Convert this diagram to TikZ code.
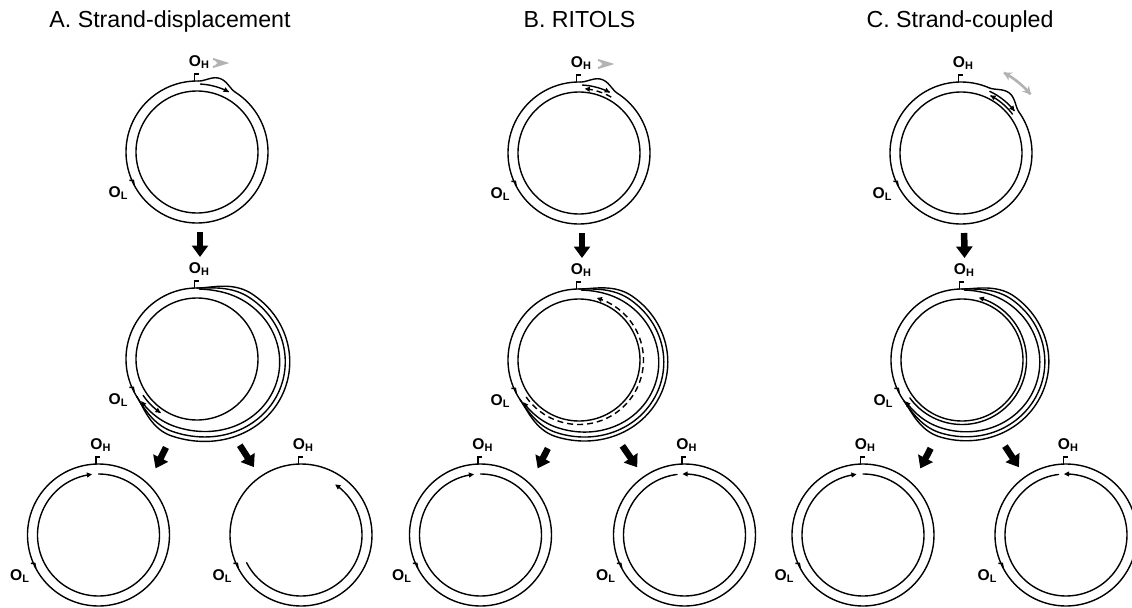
\documentclass[tikz,border=0pt]{standalone}
\usepackage{fontspec}
\setmainfont{Liberation Sans}
\usetikzlibrary{arrows.meta,calc}
\tikzset{
  ring/.style={circle, minimum size=71pt, inner sep=0pt, outer sep=0pt},
  strand/.style={line width=0.7pt, line cap=round},
  growing/.style={-{Triangle[length=2.6pt,width=2.4pt]}},
  primer/.style={densely dashed, line cap=butt},
  ori/.style={font=\fontsize{7.8}{8}\selectfont\bfseries, inner sep=0pt},
  panel/.style={font=\fontsize{11.6}{14}\selectfont, inner sep=0pt},
  flowarrow/.style={line width=3.25pt, -{Triangle[length=5.75pt,width=8pt]}},
  helicase/.style={draw=gray!60, line width=1pt},
}
% strand round a ring: radius r, bulge b (ending at angle e), offset o, from angle f to angle g
\newcommand{\strandarc}[8][]{%
  \def\bb{max(0,sin((#7-\t)/(#7-#5)*180))}%
  \def\uu{min(1,2*sin((#7-\t)/(#7-#8)*180))}%
  \def\rr{(#3+#4*\bb*\bb+#6*\uu*\uu*(3-2*\uu))}%
  \draw[strand, shift={(#2.center)}, #1] plot[domain=#7:#8, samples=120, variable=\t]
    ({\rr*cos(\t)}, {\rr*sin(\t)});}
\newcommand{\originH}[2]{%
  \draw[strand, line cap=butt] (#1.#2) -- ++(0,7) -- ++(4,0);
  \node[ori, anchor=base west] (#1H) at ($(#1.#2)+(-6,15)$) {O\textsubscript{H}};}
\newcommand{\originL}[2]{%
  \draw[strand, line cap=butt] (#1.#2) -- ++(-1,5) -- ++(-4,0);
  \node[ori, anchor=base west] (#1L) at ($(#1.#2)+(-26,-12)$) {O\textsubscript{L}};}

\begin{document}
\begin{tikzpicture}[x=0.5pt, y=0.5pt]
\useasboundingbox (0,0) rectangle (1132,607);

\node[panel, anchor=base] (titleA) at (170,580) {A. Strand-displacement};
\node[panel, anchor=base] (titleB) at (579.5,580) {B. RITOLS};
\node[panel, anchor=base] (titleC) at (960,580) {C. Strand-coupled};

\foreach \n/\x/\y in {aTop/197/455, bTop/579/454, cTop/961/454,
    aMid/197/248, bMid/579/247, cMid/962/247,
    aLeft/98.5/72, aRight/301/72, bLeft/480.5/72, bRight/684.5/72,
    cLeft/863/72, cRight/1066/72}
  \node[ring] (\n) at (\x,\y) {};

% --- top row: initiation
\strandarc{aTop}{61}{0}{360}{0}{0}{360}
\strandarc{aTop}{71}{0}{-271}{0}{57}{-271}
\strandarc{aTop}{71}{6}{57}{0}{89}{57}
\strandarc[growing]{aTop}{68}{0}{62}{0}{87}{62}
\draw[helicase] ($(aTop)+(16,93)$) -- ($(aTop)+(29,89)$) -- ($(aTop)+(16,85)$);
\draw[helicase] ($(aTop)+(19,91)$) -- ($(aTop)+(24,89)$) -- ($(aTop)+(19,87)$);

\strandarc{bTop}{61}{0}{360}{0}{0}{360}
\strandarc{bTop}{71}{0}{-271}{0}{57}{-271}
\strandarc{bTop}{71}{6}{57}{0}{89}{57}
\strandarc[growing]{bTop}{68}{0}{63}{0}{87}{63}
\strandarc[growing,primer]{bTop}{64.5}{0}{85}{0}{60}{85}
\draw[helicase] ($(bTop)+(19,93)$) -- ($(bTop)+(32,89)$) -- ($(bTop)+(19,85)$);
\draw[helicase] ($(bTop)+(22,91)$) -- ($(bTop)+(27,89)$) -- ($(bTop)+(22,87)$);

\strandarc{cTop}{61}{0}{360}{0}{0}{360}
\strandarc{cTop}{71}{0}{-293}{0}{35}{-293}
\strandarc{cTop}{71}{6}{35}{0}{67}{35}
\strandarc[growing]{cTop}{68}{0}{38}{0}{65}{38}
\strandarc[growing]{cTop}{64.5}{0}{63}{0}{37}{63}
\strandarc[draw=gray!60, line width=1.3pt, {Stealth[length=4pt,width=4.5pt]}-{Stealth[length=4pt,width=4.5pt]}]{cTop}{91}{0}{40}{0}{62}{40}

% --- middle row: half way round
\strandarc{aMid}{61}{0}{360}{0}{0}{360}
\strandarc{aMid}{71}{0}{212}{0}{90}{212}
\strandarc{aMid}{71}{12}{-110}{10}{90}{-148}
\strandarc{aMid}{71}{12}{-110}{5.5}{90}{-148}
\strandarc[growing]{aMid}{70}{12}{-110}{1}{88}{-143}
\strandarc[growing]{aMid}{65}{0}{236}{0}{214}{236}

\strandarc{bMid}{61}{0}{360}{0}{0}{360}
\strandarc{bMid}{71}{0}{214}{0}{90}{214}
\strandarc{bMid}{71}{9}{-110}{9}{90}{-146}
\strandarc{bMid}{71}{9}{-110}{5}{90}{-146}
\strandarc[growing]{bMid}{70}{9}{-110}{1}{88}{-143}
\strandarc[growing,primer]{bMid}{64.5}{0}{74}{0}{-145}{74}

\strandarc{cMid}{61}{0}{360}{0}{0}{360}
\strandarc{cMid}{71}{0}{215}{0}{90}{215}
\strandarc{cMid}{71}{7}{-110}{9}{90}{-145}
\strandarc{cMid}{71}{7}{-110}{5}{90}{-145}
\strandarc[growing]{cMid}{70}{7}{-110}{1}{88}{-144}
\strandarc[growing]{cMid}{64.5}{0}{75}{0}{-144}{75}

% --- bottom row: daughters
\foreach \d in {aLeft, bLeft, cLeft} {
  \strandarc{\d}{71}{0}{360}{0}{0}{360}
  \strandarc[growing]{\d}{61}{0}{-264}{0}{90}{-264}
}
\foreach \d in {bRight, cRight} {
  \strandarc{\d}{71}{0}{360}{0}{0}{360}
  \strandarc[growing]{\d}{61}{0}{452}{0}{97}{452}
}
\strandarc{aRight}{71}{0}{360}{0}{0}{360}
\strandarc[growing]{aRight}{61}{0}{416}{0}{207}{416}

% origins
\foreach \r in {aTop, bTop, cTop, aMid, bMid, cMid, aLeft, aRight, bLeft, bRight, cLeft, cRight} {
  \originH{\r}{92}
  \originL{\r}{208}
}

% block arrows between stages
\foreach \p in {a, b, c} {
  \draw[flowarrow, shorten <=4.5pt, shorten >=15.5pt] ([xshift=1.5pt]\p Top.south) -- ([xshift=1.5pt]\p Mid.north);
  \draw[flowarrow, shorten <=11.5pt, shorten >=8.7pt] (\p Mid.253) -- (\p Left.46);
  \draw[flowarrow, shorten <=12.75pt, shorten >=5.8pt] (\p Mid.294) -- (\p Right.125);
}
\end{tikzpicture}
\end{document}
